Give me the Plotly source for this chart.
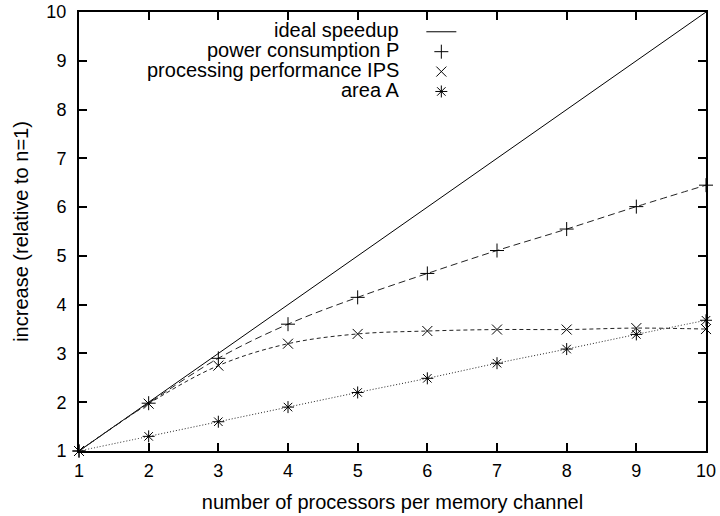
import plotly.graph_objects as go

# ---- data ----
n_proc = [1, 2, 3, 4, 5, 6, 7, 8, 9, 10]
ideal_speedup = [1, 2, 3, 4, 5, 6, 7, 8, 9, 10]
power_P = [1.0, 1.98, 2.9, 3.6, 4.15, 4.64, 5.11, 5.55, 6.01, 6.45]
perf_IPS = [1.0, 1.97, 2.75, 3.2, 3.4, 3.46, 3.49, 3.49, 3.52, 3.5]
area_A = [1.0, 1.3, 1.6, 1.9, 2.2, 2.49, 2.8, 3.09, 3.39, 3.68]

labels = ["ideal speedup", "power consumption P",
          "processing performance IPS", "area A"]
x_ticks = [1, 2, 3, 4, 5, 6, 7, 8, 9, 10]
y_ticks = [1, 2, 3, 4, 5, 6, 7, 8, 9, 10]

FONT = "Liberation Sans, Arial, Helvetica, sans-serif"
INK = "#000000"

fig = go.Figure()

# ideal speedup (solid line)
fig.add_trace(go.Scatter(
    x=n_proc, y=ideal_speedup, mode="lines", name="",
    line=dict(color=INK, width=1), cliponaxis=False,
    hovertemplate=labels[0] + ": %{y}<extra></extra>"))

series = [
    (power_P, "cross-thin-open", "7px,4px", labels[1]),
    (perf_IPS, "x-thin-open", "4px,3px", labels[2]),
    (area_A, "asterisk-open", "1px,2px", labels[3]),
]

# smoothed connecting lines (no legend)
for vals, sym, dash, lab in series:
    fig.add_trace(go.Scatter(
        x=n_proc, y=vals, mode="lines", showlegend=False,
        line=dict(color="#222222", width=1, dash=dash, shape="spline", smoothing=1.0),
        hoverinfo="skip"))

# point markers (legend samples)
for vals, sym, dash, lab in series:
    fig.add_trace(go.Scatter(
        x=n_proc, y=vals, mode="markers", name="",
        marker=dict(symbol=sym, size=10, color=INK, line=dict(color=INK, width=1)),
        cliponaxis=False,
        hovertemplate=lab + ": %{y}<extra></extra>"))

# legend text (right-aligned, gnuplot style)
rows_y = [0.959, 0.913, 0.868, 0.822]
for lab, yy in zip(labels, rows_y):
    fig.add_annotation(
        x=0.5136, y=yy, xref="paper", yref="paper",
        xanchor="right", yanchor="middle", showarrow=False,
        text=lab, font=dict(family=FONT, size=20, color=INK))

axis_common = dict(
    showline=True, linecolor=INK, linewidth=2, mirror="allticks",
    ticks="inside", ticklen=8, tickwidth=1.5, tickcolor=INK,
    showgrid=False, zeroline=False, automargin=False,
    tickfont=dict(family=FONT, size=18, color=INK),
)

fig.update_layout(
    width=720, height=516,
    margin=dict(l=79, r=14, t=12, b=65),
    paper_bgcolor="white", plot_bgcolor="white",
    font=dict(family=FONT, size=20, color=INK),
    showlegend=True,
    legend=dict(
        x=0.546, y=0.989, xanchor="left", yanchor="top",
        bgcolor="rgba(0,0,0,0)", borderwidth=0,
        font=dict(family=FONT, size=13, color=INK),
        tracegroupgap=0, itemwidth=30,
    ),
    xaxis=dict(range=[1, 10], tickvals=x_ticks, ticklabelstandoff=2,
               title=dict(text="number of processors per memory channel",
                          font=dict(family=FONT, size=20, color=INK), standoff=15),
               **axis_common),
    yaxis=dict(range=[1, 10], tickvals=y_ticks, ticklabelstandoff=7,
               title=dict(text="increase (relative to n=1)",
                          font=dict(family=FONT, size=20, color=INK), standoff=12),
               **axis_common),
)

fig.write_html("out.html", config={"displayModeBar": False},
               post_script="document.body.style.margin='0';")
